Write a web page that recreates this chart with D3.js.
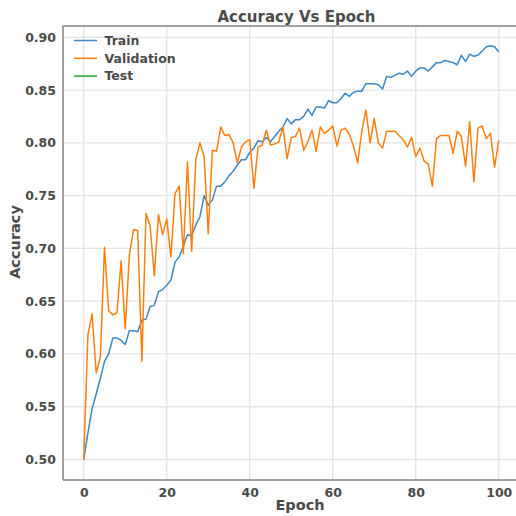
<!DOCTYPE html>
<html>
<head>
<meta charset="utf-8">
<script src="https://cdn.jsdelivr.net/npm/d3@7"></script>
<style>
  html, body { margin: 0; padding: 0; background: #fff; }
  svg { display: block; }
  text { font-family: "DejaVu Sans", sans-serif; font-weight: bold; fill: #4a4a4a; }
</style>
</head>
<body>
<svg id="chart" width="516" height="516"></svg>
<script>
const title = "Accuracy Vs Epoch";
const xLabel = "Epoch";
const yLabel = "Accuracy";
const seriesNames = ["Train", "Validation", "Test"];
const seriesColors = ["#3d87c2", "#ff7f0e", "#2ca02c"];
const xTicks = [0, 20, 40, 60, 80, 100];
const yTicks = [0.50, 0.55, 0.60, 0.65, 0.70, 0.75, 0.80, 0.85, 0.90];

const train = [
  0.500, 0.525, 0.548, 0.562, 0.577, 0.593, 0.600, 0.615, 0.615, 0.613,
  0.609, 0.622, 0.622, 0.621, 0.632, 0.633, 0.645, 0.646, 0.659, 0.661,
  0.665, 0.670, 0.687, 0.692, 0.702, 0.713, 0.712, 0.722, 0.730, 0.750,
  0.741, 0.746, 0.759, 0.759, 0.763, 0.769, 0.773, 0.779, 0.784, 0.784,
  0.791, 0.795, 0.802, 0.801, 0.805, 0.801, 0.806, 0.811, 0.815, 0.823,
  0.818, 0.822, 0.822, 0.825, 0.832, 0.826, 0.834, 0.834, 0.833, 0.840,
  0.838, 0.838, 0.842, 0.847, 0.844, 0.848, 0.849, 0.849, 0.856, 0.856,
  0.856, 0.855, 0.851, 0.863, 0.862, 0.864, 0.866, 0.865, 0.868, 0.863,
  0.868, 0.871, 0.871, 0.868, 0.872, 0.876, 0.876, 0.878, 0.877, 0.876,
  0.874, 0.883, 0.877, 0.884, 0.882, 0.883, 0.887, 0.891, 0.892, 0.891, 0.886
];
const validation = [
  0.500, 0.618, 0.638, 0.582, 0.597, 0.701, 0.641, 0.637, 0.639, 0.688,
  0.624, 0.694, 0.718, 0.717, 0.593, 0.733, 0.721, 0.674, 0.732, 0.713,
  0.728, 0.692, 0.752, 0.759, 0.695, 0.782, 0.697, 0.784, 0.800, 0.787,
  0.714, 0.793, 0.792, 0.815, 0.807, 0.808, 0.800, 0.781, 0.796, 0.801,
  0.803, 0.757, 0.796, 0.798, 0.812, 0.798, 0.799, 0.801, 0.815, 0.785,
  0.805, 0.806, 0.814, 0.793, 0.801, 0.812, 0.792, 0.815, 0.809, 0.812,
  0.816, 0.797, 0.812, 0.814, 0.808, 0.797, 0.781, 0.811, 0.831, 0.800,
  0.823, 0.800, 0.795, 0.811, 0.811, 0.811, 0.807, 0.803, 0.796, 0.805,
  0.787, 0.795, 0.783, 0.780, 0.759, 0.804, 0.807, 0.807, 0.807, 0.790,
  0.811, 0.806, 0.778, 0.820, 0.763, 0.814, 0.816, 0.804, 0.809, 0.777, 0.802
];
const test = [];

const seriesValues = [train, validation, test];

const svg = d3.select("#chart");
const pLeft = 63, pTop = 26, pBottom = 480, pRight = 519.5;

const x = d3.scaleLinear().domain([-5, 105]).range([pLeft, pRight]);
const y = d3.scaleLinear().domain([0.5, 0.9]).range([459.5, 37.3]);

svg.append("defs").append("clipPath").attr("id", "clip")
  .append("rect").attr("x", pLeft).attr("y", pTop).attr("width", pRight - pLeft).attr("height", pBottom - pTop);

const grid = svg.append("g");
grid.selectAll("line.v").data(xTicks).join("line")
  .attr("x1", d => x(d)).attr("x2", d => x(d))
  .attr("y1", pTop).attr("y2", pBottom)
  .attr("stroke", "#e3e3e3").attr("stroke-width", 1.3);
grid.selectAll("line.h").data(yTicks).join("line")
  .attr("x1", pLeft).attr("x2", pRight)
  .attr("y1", d => y(d)).attr("y2", d => y(d))
  .attr("stroke", "#e3e3e3").attr("stroke-width", 1.3);

const xAxis = d3.axisBottom(x).tickValues(xTicks).tickSize(0).tickPadding(8).tickFormat(d3.format("d"));
const yAxis = d3.axisLeft(y).tickValues(yTicks).tickSize(0).tickPadding(7).tickFormat(d3.format(".2f"));

const gx = svg.append("g").attr("transform", `translate(0,${pBottom})`).call(xAxis);
gx.select(".domain").remove();
gx.selectAll("text").attr("font-size", 12.5).attr("font-family", "DejaVu Sans").attr("font-weight", "bold").attr("fill", "#4a4a4a");

const gy = svg.append("g").attr("transform", `translate(${pLeft},0)`).call(yAxis);
gy.select(".domain").remove();
gy.selectAll("text").attr("font-size", 12.5).attr("font-family", "DejaVu Sans").attr("font-weight", "bold").attr("fill", "#4a4a4a");

const line = d3.line().x((d, i) => x(i)).y(d => y(d));
const plot = svg.append("g").attr("clip-path", "url(#clip)");
seriesValues.forEach((vals, k) => {
  if (!vals.length) return;
  plot.append("path").datum(vals)
    .attr("d", line)
    .attr("fill", "none")
    .attr("stroke", seriesColors[k])
    .attr("stroke-width", 1.5)
    .attr("stroke-linejoin", "round");
});

svg.append("line").attr("x1", pLeft).attr("x2", pLeft).attr("y1", pTop).attr("y2", pBottom)
  .attr("stroke", "#808080").attr("stroke-width", 1.5);
svg.append("line").attr("x1", pLeft).attr("x2", pRight).attr("y1", pBottom).attr("y2", pBottom)
  .attr("stroke", "#808080").attr("stroke-width", 1.5);
svg.append("line").attr("x1", pLeft).attr("x2", pRight).attr("y1", pTop).attr("y2", pTop)
  .attr("stroke", "#808080").attr("stroke-width", 1.5);

const lg = svg.append("g");
seriesNames.forEach((name, k) => {
  const yy = 40.5 + k * 17.8;
  lg.append("line").attr("x1", 74).attr("x2", 97).attr("y1", yy).attr("y2", yy)
    .attr("stroke", seriesColors[k]).attr("stroke-width", 1.5);
  lg.append("text").attr("x", 104.5).attr("y", yy).attr("dy", "0.35em")
    .attr("font-size", 12.5).text(name);
});

svg.append("text").attr("x", 296.5).attr("y", 22).attr("text-anchor", "middle")
  .attr("font-size", 15).attr("fill", "#3a3a3a").text(title);
svg.append("text").attr("x", 300).attr("y", 510).attr("text-anchor", "middle")
  .attr("font-size", 14.5).text(xLabel);
svg.append("text").attr("transform", "translate(20,242) rotate(-90)").attr("text-anchor", "middle")
  .attr("font-size", 14.5).text(yLabel);
</script>
</body>
</html>
